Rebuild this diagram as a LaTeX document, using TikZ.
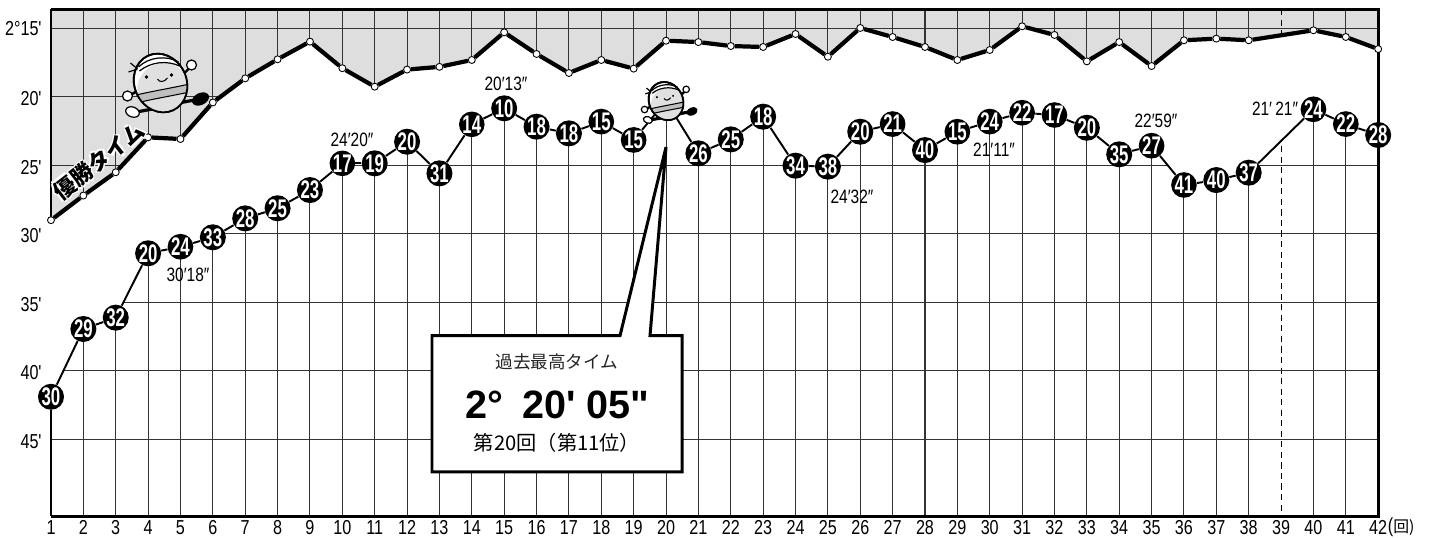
\documentclass[tikz,border=0pt]{standalone}
\usepackage{fontspec}
\setmainfont{Liberation Sans}
\newfontfamily\numfont{Liberation Sans}[FakeStretch=0.8]
\newfontfamily\rankfont{Liberation Sans}[FakeStretch=0.66]
\newfontfamily\jpfont{Noto Sans CJK JP}
\newfontfamily\bigfont{Liberation Sans}
\usetikzlibrary{positioning, calc}
\definecolor{bandgray}{RGB}{221,222,221}

% white outline round a text
\newcommand{\halo}[1]{{\color{white}\rlap{\kern-1.2pt#1}\rlap{\kern1.2pt#1}\rlap{\raisebox{1.2pt}{#1}}\rlap{\raisebox{-1.2pt}{#1}}}#1}

\newcommand{\chartgrid}{%
  \foreach \n in {2,...,41} {\ifnum\n=39 \draw[gridcut] (\n,13.576) -- (\n,50.61); \else \draw[grid] (\n,13.576) -- (\n,50.61); \fi}
  \foreach \t in {15,20,...,45} \draw[grid] (1,\t) -- (42,\t);
}

\def\winners{1/29.0,2/27.2,3/25.5,4/22.95,5/23.07,6/20.4,7/18.64,8/17.25,9/15.96,10/17.9,11/19.25,12/18.0,13/17.8,14/17.3,15/15.28,16/16.86,17/18.25,18/17.3,19/17.93,20/15.89,21/15.99,22/16.28,23/16.35,24/15.4,25/17.06,26/14.96,27/15.62,28/16.35,29/17.3,30/16.57,31/14.84,32/15.47,33/17.4,34/15.99,35/17.74,36/15.86,37/15.74,38/15.86,40/15.13,41/15.62,42/16.5}
\def\results{1/41.9/30,2/36.95/29,3/36.12/32,4/31.42/20,5/30.94/24,6/30.25/33,7/28.87/28,8/28.13/25,9/26.8/23,10/24.85/17,11/24.85/19,12/23.27/20,13/25.58/31,14/22.0/14,15/20.83/10,16/22.17/18,17/22.66/18,18/21.8/15,19/23.14/15,21/24.12/26,22/23.1/25,23/21.44/18,24/25.02/34,25/25.09/38,26/22.54/20,27/21.98/21,28/23.88/40,29/22.54/15,30/21.8/24,31/21.15/22,32/21.32/17,33/22.25/20,34/24.19/35,35/23.56/27,36/26.43/41,37/26.07/40,38/25.53/37,40/20.9/24,41/21.98/22,42/22.78/28}
\def\links{1/2,2/3,3/4,4/5,5/6,6/7,7/8,8/9,9/10,10/11,11/12,12/13,13/14,14/15,15/16,16/17,17/18,18/19,21/22,22/23,23/24,24/25,25/26,26/27,27/28,28/29,29/30,30/31,31/32,32/33,33/34,34/35,35/36,36/37,37/38,38/40,40/41,41/42}

\tikzset{
  grid/.style={draw=black!80, line width=0.6pt},
  gridcut/.style={draw=black, line width=0.6pt, dash pattern=on 3.5pt off 2.5pt},
  border/.style={line width=1.7pt},
  winline/.style={line width=2.4pt},
  winpt/.style={circle, fill=white, draw=black, line width=0.5pt, inner sep=0pt, minimum size=0.14cm},
  result/.style={line width=1.1pt},
  rank/.style={circle, fill=black, text=white, inner sep=0pt, minimum size=0.47cm, font=\rankfont\bfseries\fontsize{14.5}{14.5}\selectfont},
  timelab/.style={font=\numfont\fontsize{11}{11}\selectfont, inner sep=0pt},
  ylab/.style={font=\numfont\fontsize{11.5}{12}\selectfont, anchor=east, inner sep=0pt},
  xlab/.style={font=\numfont\fontsize{11.5}{11.5}\selectfont, inner sep=0pt},
  callout/.style={fill=white, draw=black, line width=1.7pt},
  mascot/.pic={
    \begin{scope}[x=0.02cm, y=-0.02cm]
      \draw[line width=1.8pt] (18,20) -- (34,17);
      \fill[rotate around={25:(40,16)}] (40,16) ellipse (9 and 6);
      \draw[line width=1.8pt] (-8,26) -- (-24,29);
      \draw[fill=white, line width=0.7pt, rotate around={-20:(-28,29)}] (-28,29) ellipse (7 and 5);
      \draw[line width=1.4pt] (-20,6) -- (-30,12);
      \draw[fill=white, line width=0.7pt] (-33,13) circle (5);
      \draw[line width=1.4pt] (20,-6) -- (29,-15);
      \draw[fill=white, line width=0.7pt] (31,-18) circle (5);
      \begin{scope}[rotate=25]
        \draw[fill=white, line width=1pt] (0,0) ellipse (26 and 30);
        \begin{scope}
          \clip (0,0) ellipse (26 and 30);
          \fill[black!12] (0,6) ellipse (26 and 25);
          \fill[black!25] (-30,0) .. controls (-10,4) and (10,10) .. (30,14) -- (30,22) .. controls (10,18) and (-10,12) .. (-30,8) -- cycle;
          \draw[line width=0.6pt] (-30,0) .. controls (-10,4) and (10,10) .. (30,14);
          \draw[line width=0.6pt] (30,22) .. controls (10,18) and (-10,12) .. (-30,8);
        \end{scope}
        \draw[line width=1pt] (0,0) ellipse (26 and 30);
      \end{scope}
      \draw[line width=0.7pt] (-22,-16) .. controls (-12,-26) and (6,-28) .. (18,-21);
      \draw[line width=0.7pt] (-21,-12) .. controls (-10,-21) and (6,-23) .. (19,-17);
      \draw[line width=0.7pt] (-23,-14) -- (-32,-11) (-23,-14) -- (-30,-20);
      \fill (-14,-6) circle (1.8) (11,-8) circle (1.8);
      \draw[line width=0.6pt] (-3,-4) .. controls (-1,0) and (4,-1) .. (7,-5);
    \end{scope}
  }
}

\begin{document}
\begin{tikzpicture}[x=0.6474cm, y=-0.2738cm]
  \useasboundingbox (-0.5755,12.918) rectangle (43.570,52.144);

  \foreach \n/\t in \winners \coordinate (w\n) at (\n,\t);
  \coordinate (w39) at ($(w38)!0.5!(w40)$);
  \foreach \n/\t/\k in \results \coordinate (r\n) at (\n,\t);
  \coordinate (r20) at (20,20.3);
  \coordinate (r39) at ($(r38)!0.5!(r40)$);

  % shaded band above the winning times
  \fill[bandgray] (1,13.576) -- (42,13.576) \foreach \n in {42,41,...,1} { -- (w\n) } -- cycle;
  \begin{scope}
    \clip (1,13.576) -- (42,13.576) \foreach \n in {42,41,...,1} { -- (w\n) } -- cycle;
    \chartgrid
  \end{scope}
  \begin{scope}
    \clip (1,50.61) \foreach \n in {1,...,42} { -- (r\n) } -- (42,50.61) -- cycle;
    \chartgrid
  \end{scope}

  \draw[border] (1,13.576) -- (42,13.576) -- (42,50.61) -- (1,50.61);
  \draw[border] (1,13.576) -- (w1);

  % callout for the best time
  \draw[callout] (12.770,37.44) -- (18.578,37.44) -- (20,23.656) -- (19.505,37.44) -- (20.494,37.44) -- (20.494,47.38) -- (12.770,47.38) -- cycle;
  \node[font=\jpfont\fontsize{10}{10}\selectfont, text=black!85] (bestcap) at (16.632,39.36) {過去最高タイム};
  \node[font=\bigfont\bfseries\fontsize{22.5}{24}\selectfont] (besttime) at (16.632,42.5) {2°\hspace{0.5em}20'\hspace{0.25em}05"};
  \node[font=\jpfont\fontsize{11.5}{12}\selectfont] (bestrace) at (16.632,45.28) {第20回（第11位）};

  \foreach \n/\t in \winners \node[winpt] (wn\n) at (w\n) {};
  \foreach \a/\b in \links \draw[winline] (wn\a) -- (wn\b);
  \draw[winline] (wn19) -- (wn20) -- (wn21);

  \foreach \n/\t/\k in \results \node[rank] (rk\n) at (r\n) {\k};
  \foreach \a/\b in \links \draw[result] (rk\a) -- (rk\b);
  \draw[result] (rk19) -- (r20) -- (rk21);
  \draw[border] (rk1) -- (1,50.61);

  % axes
  \node[ylab] (y15) at (0.72,15.0) {2°15'};
  \foreach \t in {20,25,...,45} \node[ylab] (y\t) at (0.72,\t+0.15) {\t'};
  \foreach \n in {1,...,42} \node[xlab] (x\n) at (\n,51.45) {\n};
  \node[xlab, right=0pt of x42] (unit) {(\jpfont\fontsize{9}{9}\selectfont 回)};

  % split times
  \node[timelab] (s5) at (5.232,33.006) {30′18″};
  \node[timelab] (s10) at (10.299,23.145) {24′20″};
  \node[timelab] (s15) at (15.056,19.054) {20′13″};
  \node[timelab] (s25) at (25.745,27.308) {24′32″};
  \node[timelab] (s30) at (30.132,23.876) {21′11″};
  \node[timelab] (s35) at (35.137,21.758) {22′59″};
  \node[timelab] (s40) at (38.813,20.881) {21′\,21″};

  \pic (bigrunner) at (4.383,18.98) {mascot};
  \pic[scale=0.65] (smallrunner) at (20,20.3) {mascot};

  \node[rotate=38, font=\jpfont\bfseries\fontsize{12.5}{12.5}\selectfont] (wintitle) at (2.483,24.68) {\halo{優勝タイム}};
\end{tikzpicture}
\end{document}
